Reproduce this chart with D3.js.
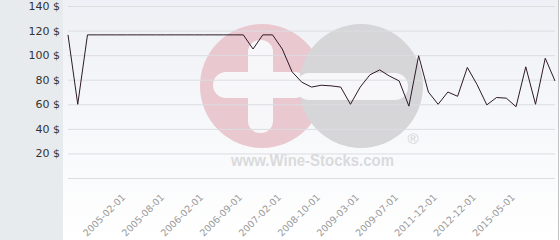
<!DOCTYPE html>
<html>
<head>
<meta charset="utf-8">
<script src="https://cdn.jsdelivr.net/npm/d3@7"></script>
<style>
  html, body { margin: 0; padding: 0; background: #fff; }
  svg { display: block; }
</style>
</head>
<body>
<svg width="560" height="240"></svg>
<script>
// prices, one per observation (equally spaced categories)
const prices = [116.5, 60, 116.5, 116.5, 116.5, 116.5, 116.5, 116.5, 116.5, 116.5,
  116.5, 116.5, 116.5, 116.5, 116.5, 116.5, 116.5, 116.5, 116.5, 105,
  116.5, 116.5, 105, 86.5, 78, 74, 75.5, 75, 74, 60,
  74, 84, 88, 83, 79, 58.5, 99.5, 70, 60, 70,
  66.5, 90, 76, 59.5, 65.5, 65, 58, 90.5, 60, 97.5, 79];
const tickIdx = [6, 10, 14, 18, 22, 26, 30, 34, 38, 42, 46];
const tickLabels = ["2005-02-01", "2005-08-01", "2006-02-01", "2006-09-01", "2007-02-01",
  "2008-10-01", "2009-03-01", "2009-07-01", "2011-12-01", "2012-12-01", "2015-05-01"];
const yTicks = [0, 20, 40, 60, 80, 100, 120, 140];

const svg = d3.select("svg");

const x = d3.scaleLinear().domain([0, prices.length - 1]).range([68, 555]);
const y = d3.scaleLinear().domain([0, 140]).range([178, 6]);

// backgrounds
const defs = svg.append("defs");
const grad = defs.append("linearGradient")
  .attr("id", "bg").attr("x1", 0).attr("y1", 0).attr("x2", 0).attr("y2", 1);
grad.append("stop").attr("offset", "0%").attr("stop-color", "#eef0f5");
grad.append("stop").attr("offset", "100%").attr("stop-color", "#ffffff");

svg.append("rect").attr("x", 0).attr("y", 0).attr("width", 63).attr("height", 240)
  .attr("fill", "#e7ebee");
svg.append("rect").attr("x", 63).attr("y", 0).attr("width", 496).attr("height", 240)
  .attr("fill", "url(#bg)");
svg.append("line").attr("x1", 558.5).attr("x2", 558.5).attr("y1", 0).attr("y2", 240)
  .attr("stroke", "#c4c4c4");

// watermark
const wm = svg.append("g");
wm.append("circle").attr("cx", 262).attr("cy", 86).attr("r", 62).attr("fill", "#e9c8d0");
wm.append("rect").attr("x", 248).attr("y", 40).attr("width", 25).attr("height", 93)
  .attr("rx", 12).attr("fill", "#f7f7f9");
wm.append("rect").attr("x", 213).attr("y", 72).attr("width", 95).attr("height", 26)
  .attr("rx", 13).attr("fill", "#f7f7f9");
wm.append("circle").attr("cx", 361).attr("cy", 86).attr("r", 62).attr("fill", "#d6d6d8");
wm.append("rect").attr("x", 296).attr("y", 73).attr("width", 112).attr("height", 27)
  .attr("rx", 13).attr("fill", "#f7f7f9");
wm.append("text").attr("x", 413).attr("y", 144).attr("text-anchor", "middle")
  .attr("font-family", "Liberation Sans, Arial, sans-serif").attr("font-size", 15)
  .attr("fill", "#d4d4d6").text("®");
wm.append("text").attr("x", 231).attr("y", 166)
  .attr("font-family", "Liberation Sans, Arial, sans-serif").attr("font-weight", "bold")
  .attr("font-size", 17).attr("textLength", 163).attr("lengthAdjust", "spacingAndGlyphs")
  .attr("fill", "#dadadc").text("www.Wine-Stocks.com");

// grid
const grid = svg.append("g").attr("transform", "translate(68,0)")
  .call(d3.axisLeft(y).tickValues(yTicks).tickSize(-(555 - 68)).tickFormat(""));
grid.select(".domain").remove();
grid.selectAll("line").attr("stroke", "#dcdde1");

// y labels
const yAx = svg.append("g").attr("transform", "translate(60,0)")
  .call(d3.axisLeft(y).tickValues(yTicks).tickSize(0).tickPadding(0)
    .tickFormat(d => d === 0 ? "" : d + " $"));
yAx.select(".domain").remove();
yAx.selectAll("text").attr("font-family", "DejaVu Sans, sans-serif")
  .attr("font-size", 11).attr("fill", "#333");

// x labels
const xAx = svg.append("g").attr("transform", "translate(0,178)")
  .call(d3.axisBottom(x).tickValues(tickIdx).tickSize(0)
    .tickFormat((d, i) => tickLabels[i]));
xAx.select(".domain").remove();
xAx.selectAll("text")
  .attr("font-family", "DejaVu Sans, sans-serif").attr("font-size", 9.5)
  .attr("fill", "#9a9a9a").attr("text-anchor", "end")
  .attr("y", 0).attr("dy", 0)
  .attr("transform", "translate(-1,20) rotate(-45)");

// line
svg.append("path").datum(prices)
  .attr("fill", "none").attr("stroke", "#2e1a26").attr("stroke-width", 1)
  .attr("d", d3.line().x((d, i) => x(i)).y(d => y(d)));
</script>
</body>
</html>
